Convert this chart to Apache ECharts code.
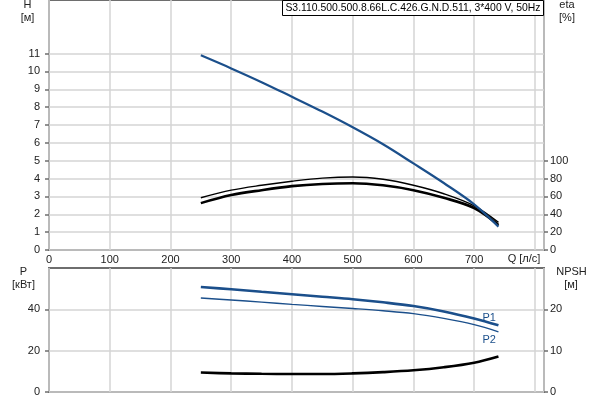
<!DOCTYPE html>
<html><head><meta charset="utf-8">
<script src="https://cdn.jsdelivr.net/npm/echarts@6/dist/echarts.min.js"></script>
<style>html,body{margin:0;padding:0;background:#fff}#c{width:600px;height:400px}</style>
</head><body><div id="c"></div>
<script>
// Flow rate Q [л/с]
const flow = [250, 300, 350, 400, 450, 500, 550, 600, 650, 700, 740];
// Head H [м]
const head = [10.9, 10.17, 9.4, 8.58, 7.75, 6.87, 5.92, 4.85, 3.75, 2.56, 1.31];
// Efficiencies [%]
const etaUpper = [58.5, 67, 72.5, 77, 80.5, 81.8, 79.2, 72.5, 63, 49.5, 31];
const etaLower = [52.5, 61.5, 67, 71.5, 74, 74.8, 72.5, 67, 58.5, 47, 28];
// Power [кВт]
const powerP1 = [50.8, 49.7, 48.5, 47.3, 46.1, 44.9, 43.4, 41.6, 39.0, 35.6, 32.3];
const powerP2 = [45.5, 44.5, 43.5, 42.4, 41.4, 40.4, 39.3, 37.9, 35.6, 32.6, 29.1];
// NPSH [м]
const npsh = [4.7, 4.5, 4.4, 4.35, 4.35, 4.5, 4.8, 5.25, 6.0, 7.1, 8.6];
// Tick labels
const qTicks = [0, 100, 200, 300, 400, 500, 600, 700];
const hTicks = [0, 1, 2, 3, 4, 5, 6, 7, 8, 9, 10, 11];
const etaTicks = [0, 20, 40, 60, 80, 100];
const pTicks = [0, 20, 40];
const npshTicks = [0, 10, 20];
const title = 'S3.110.500.500.8.66L.C.426.G.N.D.511, 3*400 V, 50Hz';

const pair = (ys) => flow.map((q, i) => [q, ys[i]]);
const FONT = 'Liberation Sans, Arial, sans-serif';
const txt = '#222';
const blue = '#1b4f8b';
const gridColor = '#d4d4d4';
const frame = '#6e6e6e';
const SM = 0.35;

const lbl = { color: txt, fontSize: 11, fontFamily: FONT };

const chart = echarts.init(document.getElementById('c'), null, { renderer: 'canvas' });
chart.setOption({
  animation: false,
  backgroundColor: '#fff',
  grid: [
    { left: 49, right: 56, top: 0, height: 250, show: true, borderColor: frame, borderWidth: 2, backgroundColor: 'transparent' },
    { left: 49, right: 56, top: 268, height: 124, show: true, borderColor: frame, borderWidth: 2, backgroundColor: 'transparent' }
  ],
  xAxis: [
    { type: 'value', gridIndex: 0, min: 0, max: 815, interval: 100,
      axisLine: { show: false }, axisTick: { show: false },
      axisLabel: Object.assign({ margin: 4, customValues: qTicks }, lbl),
      splitLine: { show: true, lineStyle: { color: gridColor, width: 1.5 } } },
    { type: 'value', gridIndex: 1, min: 0, max: 815, interval: 100,
      axisLine: { show: false }, axisTick: { show: false }, axisLabel: { show: false },
      splitLine: { show: true, lineStyle: { color: gridColor, width: 1.5 } } }
  ],
  yAxis: [
    { type: 'value', gridIndex: 0, min: 0, max: 14, interval: 1, position: 'left',
      axisLine: { show: false },
      axisTick: { show: true, length: 4, customValues: hTicks, lineStyle: { color: frame, width: 1.5 } },
      axisLabel: Object.assign({ margin: 9, customValues: hTicks }, lbl),
      splitLine: { show: true, lineStyle: { color: gridColor, width: 1.5 } } },
    { type: 'value', gridIndex: 0, min: 0, max: 280, interval: 20, position: 'right',
      axisLine: { show: false },
      axisTick: { show: true, length: 4, customValues: etaTicks, lineStyle: { color: frame, width: 1.5 } },
      axisLabel: Object.assign({ margin: 6, customValues: etaTicks }, lbl),
      splitLine: { show: false } },
    { type: 'value', gridIndex: 1, min: 0, max: 60, interval: 20, position: 'left',
      axisLine: { show: false },
      axisTick: { show: true, length: 4, customValues: pTicks, lineStyle: { color: frame, width: 1.5 } },
      axisLabel: Object.assign({ margin: 9, customValues: pTicks }, lbl),
      splitLine: { show: true, lineStyle: { color: gridColor, width: 1.5 } } },
    { type: 'value', gridIndex: 1, min: 0, max: 30, interval: 10, position: 'right',
      axisLine: { show: false },
      axisTick: { show: true, length: 4, customValues: npshTicks, lineStyle: { color: frame, width: 1.5 } },
      axisLabel: Object.assign({ margin: 6, customValues: npshTicks }, lbl),
      splitLine: { show: false } }
  ],
  series: [
    { name: 'eta1', type: 'line', xAxisIndex: 0, yAxisIndex: 1, data: pair(etaUpper), smooth: SM,
      showSymbol: false, lineStyle: { color: '#000', width: 1.4 } },
    { name: 'eta2', type: 'line', xAxisIndex: 0, yAxisIndex: 1, data: pair(etaLower), smooth: SM,
      showSymbol: false, lineStyle: { color: '#000', width: 2.6 } },
    { name: 'H', type: 'line', xAxisIndex: 0, yAxisIndex: 0, data: pair(head), smooth: SM,
      showSymbol: false, lineStyle: { color: blue, width: 2.2 } },
    { name: 'P1', type: 'line', xAxisIndex: 1, yAxisIndex: 2, data: pair(powerP1), smooth: SM,
      showSymbol: false, lineStyle: { color: blue, width: 2.6 },
      endLabel: { show: true, formatter: 'P1', color: blue, fontSize: 11, fontFamily: FONT, distance: 0, offset: [-16, -7] } },
    { name: 'P2', type: 'line', xAxisIndex: 1, yAxisIndex: 2, data: pair(powerP2), smooth: SM,
      showSymbol: false, lineStyle: { color: blue, width: 1.4 },
      endLabel: { show: true, formatter: 'P2', color: blue, fontSize: 11, fontFamily: FONT, distance: 0, offset: [-16, 8] } },
    { name: 'NPSH', type: 'line', xAxisIndex: 1, yAxisIndex: 3, data: pair(npsh), smooth: SM,
      showSymbol: false, lineStyle: { color: '#000', width: 2.6 } }
  ],
  graphic: [
    { type: 'rect', shape: { x: 282.5, y: 0.5, width: 261, height: 15 }, style: { fill: '#fff', stroke: '#000', lineWidth: 1 }, z: 100 },
    { type: 'text', x: 413, y: 8.5, z: 101, style: { text: title, fill: '#000', font: '10.4px ' + FONT, align: 'center', verticalAlign: 'middle' } },
    { type: 'text', x: 27.5, y: 5, style: { text: 'H', fill: txt, font: '11px ' + FONT, align: 'center', verticalAlign: 'middle' } },
    { type: 'text', x: 27.5, y: 17.5, style: { text: '[м]', fill: txt, font: '11px ' + FONT, align: 'center', verticalAlign: 'middle' } },
    { type: 'text', x: 567, y: 5, style: { text: 'eta', fill: txt, font: '11px ' + FONT, align: 'center', verticalAlign: 'middle' } },
    { type: 'text', x: 567, y: 17.5, style: { text: '[%]', fill: txt, font: '11px ' + FONT, align: 'center', verticalAlign: 'middle' } },
    { type: 'text', x: 23.5, y: 272, style: { text: 'P', fill: txt, font: '11px ' + FONT, align: 'center', verticalAlign: 'middle' } },
    { type: 'text', x: 23.5, y: 284.5, style: { text: '[кВт]', fill: txt, font: '11px ' + FONT, align: 'center', verticalAlign: 'middle' } },
    { type: 'text', x: 571.5, y: 272, style: { text: 'NPSH', fill: txt, font: '11px ' + FONT, align: 'center', verticalAlign: 'middle' } },
    { type: 'text', x: 571, y: 285, style: { text: '[м]', fill: txt, font: '11px ' + FONT, align: 'center', verticalAlign: 'middle' } },
    { type: 'text', x: 524, y: 258.5, style: { text: 'Q [л/с]', fill: txt, font: '11px ' + FONT, align: 'center', verticalAlign: 'middle' } }
  ]
});
</script>
</body></html>
